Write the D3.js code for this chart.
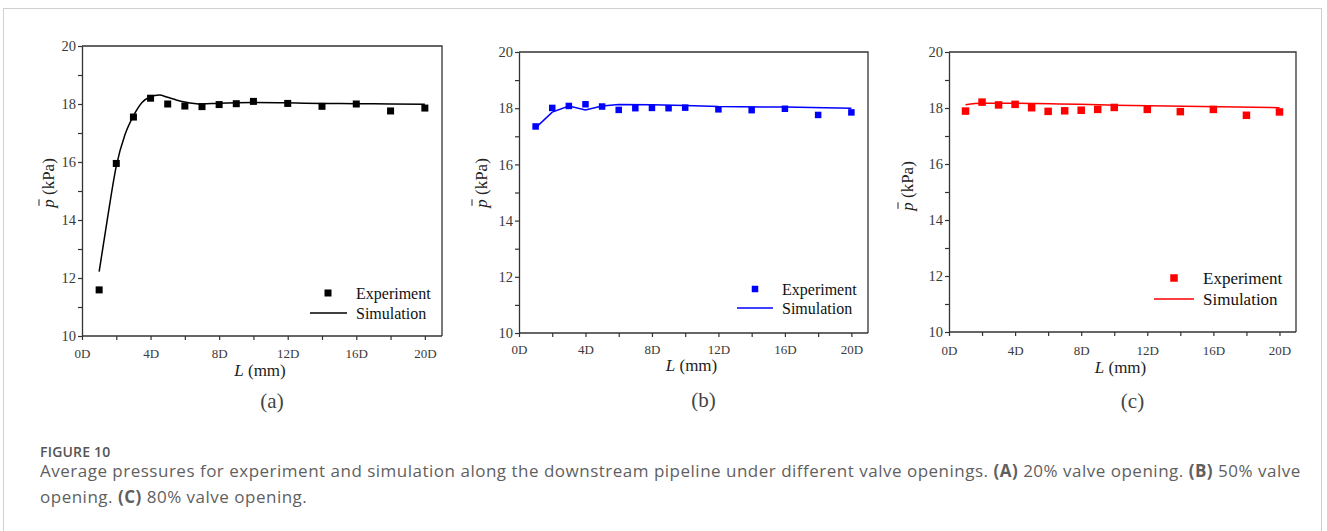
<!DOCTYPE html>
<html>
<head>
<meta charset="utf-8">
<script src="https://cdn.jsdelivr.net/npm/d3@7"></script>
<style>
    body { margin: 0; background: #fff; }
</style>
</head>
<body>
<script>
// Data
const positions = [1, 2, 3, 4, 5, 6, 7, 8, 9, 10, 12, 14, 16, 18, 20]
const expA = [11.59, 15.95, 17.55, 18.2, 18.0, 17.93, 17.91, 17.98, 18.01, 18.09, 18.02, 17.92, 18.0, 17.76, 17.86]
const expB = [17.35, 18.01, 18.08, 18.14, 18.06, 17.94, 18.0, 18.01, 18.0, 18.02, 17.96, 17.93, 17.98, 17.76, 17.85]
const expC = [17.89, 18.21, 18.11, 18.13, 18.01, 17.88, 17.9, 17.92, 17.95, 18.02, 17.95, 17.87, 17.95, 17.74, 17.86]

const simPosA = [1, 1.5, 2, 2.5, 3, 3.5, 4, 4.5, 5, 5.5, 6, 7, 8, 10, 12, 14, 16, 18, 20]
const simA = [12.22, 14.11, 15.86, 16.93, 17.59, 18.05, 18.25, 18.31, 18.23, 18.14, 18.07, 18.0, 18.03, 18.05, 18.04, 18.02, 18.01, 18.0, 17.99]
const simPosB = [1, 2, 3, 4, 5, 6, 8, 10, 12, 16, 20]
const simB = [17.3, 17.86, 18.08, 17.94, 18.08, 18.13, 18.12, 18.1, 18.06, 18.04, 18.0]
const simPosC = [1, 2, 4, 10, 20]
const simC = [18.12, 18.17, 18.17, 18.1, 18.01]

const xTicks = [0, 2, 4, 6, 8, 10, 12, 14, 16, 18, 20]
const xTickLabels = ["0D", "", "4D", "", "8D", "", "12D", "", "16D", "", "20D"]
const yTicks = [10, 11, 12, 13, 14, 15, 16, 17, 18, 19, 20]
const yTickLabels = ["10", "", "12", "", "14", "", "16", "", "18", "", "20"]

// Panel layout
const panels = [
    { exp: expA, simX: simPosA, sim: simA, color: "#000000", curve: d3.curveMonotoneX, tag: "(a)",
      left: 82, right: 442, top: 46, bottom: 336, size: 7,
      tickY: 358, titleY: 376, tagY: 408, labelX: 54, labelY: 183,
      legX: 328, legY: 293, legTextX: 356, lineX0: 310, lineX1: 347, lineY: 313, legFont: 16 },
    { exp: expB, simX: simPosB, sim: simB, color: "#0000ff", curve: d3.curveLinear, tag: "(b)",
      left: 519, right: 868, top: 52, bottom: 333, size: 6.5,
      tickY: 354, titleY: 371, tagY: 407, labelX: 487, labelY: 183,
      legX: 755, legY: 289, legTextX: 782, lineX0: 737, lineX1: 773, lineY: 308, legFont: 16 },
    { exp: expC, simX: simPosC, sim: simC, color: "#ff0000", curve: d3.curveMonotoneX, tag: "(c)",
      left: 949, right: 1296, top: 52, bottom: 332, size: 7.5,
      tickY: 355, titleY: 373, tagY: 408, labelX: 913, labelY: 186,
      legX: 1174, legY: 278, legTextX: 1203, lineX0: 1154, lineX1: 1194, lineY: 299, legFont: 17 }
]

const width = 1327
const height = 531
const serif = "'Liberation Serif', 'Times New Roman', serif"
const axisColor = "#333"

let svg = d3.select("body")
    .append("svg")
    .attr("width", width)
    .attr("height", height)

// Outer frame
svg.append("rect")
    .attr("x", 3.5).attr("y", 8.5)
    .attr("width", 1318).attr("height", 560)
    .attr("fill", "none")
    .attr("stroke", "#d0d0d0")
    .attr("stroke-width", 1)

panels.forEach(p => {
    let xScale = d3.scaleLinear().domain([0, 21]).range([p.left, p.right])
    let yScale = d3.scaleLinear().domain([10, 20]).range([p.bottom, p.top])
    let g = svg.append("g")

    // Top and right frame lines
    g.append("path")
        .attr("d", `M${p.left},${p.top}H${p.right}V${p.bottom}`)
        .attr("fill", "none")
        .attr("stroke", axisColor)
        .attr("stroke-width", 1.3)

    // Axes
    let xAxis = g.append("g")
        .attr("transform", `translate(0, ${p.bottom})`)
        .call(d3.axisBottom(xScale).tickValues(xTicks).tickSize(4).tickSizeOuter(0)
            .tickFormat((d, i) => xTickLabels[i]))
    let yAxis = g.append("g")
        .attr("transform", `translate(${p.left}, 0)`)
        .call(d3.axisLeft(yScale).tickValues(yTicks).tickSize(4).tickSizeOuter(0)
            .tickFormat((d, i) => yTickLabels[i]))
    xAxis.select(".domain").attr("d", `M${p.left},0H${p.right}`)
    ;[xAxis, yAxis].forEach(a => {
        a.attr("font-size", null).attr("font-family", null)
        a.select(".domain").attr("stroke", axisColor).attr("stroke-width", 1.3)
        a.selectAll(".tick line").attr("stroke", axisColor).attr("stroke-width", 1.2)
        a.selectAll(".tick text")
            .attr("fill", "#3a3a3a")
            .style("font-family", serif)
    })
    xAxis.selectAll(".tick text").attr("y", p.tickY - p.bottom).attr("dy", "0")
        .style("font-size", "13px")
    yAxis.selectAll(".tick text").attr("x", -6)
        .style("font-size", "14.5px")

    // Simulation line
    let simData = p.simX.map((x, i) => ({ x: x, y: p.sim[i] }))
    g.append("path")
        .datum(simData)
        .attr("d", d3.line().x(d => xScale(d.x)).y(d => yScale(d.y)).curve(p.curve))
        .attr("fill", "none")
        .attr("stroke", p.color)
        .attr("stroke-width", 1.5)

    // Experiment points
    g.selectAll(".pt")
        .data(positions.map((x, i) => ({ x: x, y: p.exp[i] })))
        .enter().append("rect")
        .attr("class", "pt")
        .attr("x", d => xScale(d.x) - p.size / 2)
        .attr("y", d => yScale(d.y) - p.size / 2)
        .attr("width", p.size)
        .attr("height", p.size)
        .attr("fill", p.color)

    // X title
    let xt = g.append("text")
        .attr("x", (p.left + p.right) / 2 - 2)
        .attr("y", p.titleY)
        .attr("text-anchor", "middle")
        .attr("fill", "#222")
        .style("font-family", serif)
        .style("font-size", "17px")
    xt.append("tspan").style("font-style", "italic").text("L")
    xt.append("tspan").text(" (mm)")

    // Y title with overbar on p
    let yl = g.append("g").attr("transform", `translate(${p.labelX}, ${p.labelY}) rotate(-90)`)
    let yt = yl.append("text")
        .attr("text-anchor", "middle")
        .attr("fill", "#222")
        .style("font-family", serif)
        .style("font-size", "17px")
    yt.append("tspan").style("font-style", "italic").text("p")
    yt.append("tspan").text(" (kPa)")
    let w = yt.node().getComputedTextLength()
    let pw = yt.node().getSubStringLength(0, 1)
    yl.append("line")
        .attr("x1", -w / 2 + 2).attr("x2", -w / 2 + pw)
        .attr("y1", -15).attr("y2", -15)
        .attr("stroke", "#222").attr("stroke-width", 1)

    // Panel tag
    g.append("text")
        .attr("x", (p.left + p.right) / 2 + 10)
        .attr("y", p.tagY)
        .attr("text-anchor", "middle")
        .attr("fill", "#444")
        .style("font-family", serif)
        .style("font-size", "21px")
        .text(p.tag)

    // Legend
    g.append("rect")
        .attr("x", p.legX - p.size / 2).attr("y", p.legY - p.size / 2)
        .attr("width", p.size).attr("height", p.size)
        .attr("fill", p.color)
    g.append("line")
        .attr("x1", p.lineX0).attr("x2", p.lineX1)
        .attr("y1", p.lineY).attr("y2", p.lineY)
        .attr("stroke", p.color).attr("stroke-width", 1.5)
    g.append("text")
        .attr("x", p.legTextX).attr("y", p.legY)
        .attr("dominant-baseline", "central")
        .attr("fill", "#111")
        .style("font-family", serif)
        .style("font-size", p.legFont + "px")
        .text("Experiment")
    g.append("text")
        .attr("x", p.legTextX).attr("y", p.lineY)
        .attr("dominant-baseline", "central")
        .attr("fill", "#111")
        .style("font-family", serif)
        .style("font-size", p.legFont + "px")
        .text("Simulation")
})

// Caption
const sans = "'Open Sans', 'Noto Sans', sans-serif"
svg.append("text")
    .attr("x", 40).attr("y", 457)
    .attr("fill", "#555")
    .style("font-family", sans)
    .style("font-size", "14px")
    .style("font-weight", "600")
    .style("letter-spacing", "0.2px")
    .text("FIGURE 10")

let cap1 = svg.append("text")
    .attr("x", 40).attr("y", 477)
    .attr("fill", "#5f5f5f")
    .style("font-family", sans)
    .style("font-size", "17px")
    .style("letter-spacing", "0.5px")
cap1.append("tspan").text("Average pressures for experiment and simulation along the downstream pipeline under different valve openings. ")
cap1.append("tspan").style("font-weight", "700").text("(A)")
cap1.append("tspan").text(" 20% valve opening. ")
cap1.append("tspan").style("font-weight", "700").text("(B)")
cap1.append("tspan").text(" 50% valve")

let cap2 = svg.append("text")
    .attr("x", 40).attr("y", 503)
    .attr("fill", "#5f5f5f")
    .style("font-family", sans)
    .style("font-size", "17px")
    .style("letter-spacing", "0.5px")
cap2.append("tspan").text("opening. ")
cap2.append("tspan").style("font-weight", "700").text("(C)")
cap2.append("tspan").text(" 80% valve opening.")
</script>
</body>
</html>
